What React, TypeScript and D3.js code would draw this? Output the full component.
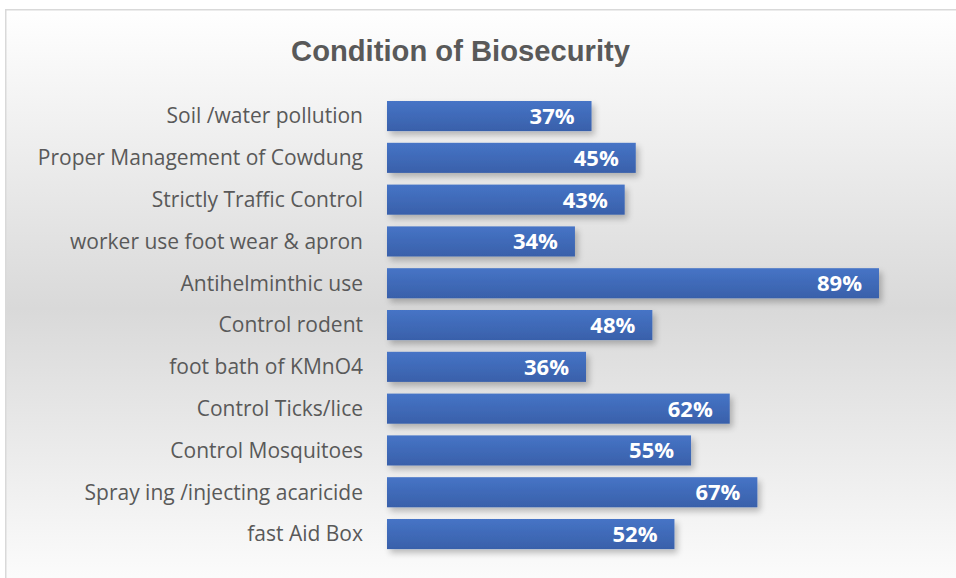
import React from "react";
import * as d3 from "d3";

const categories: string[] = [
  "Soil /water pollution",
  "Proper Management of Cowdung",
  "Strictly Traffic Control",
  "worker use foot wear & apron",
  "Antihelminthic use",
  "Control rodent",
  "foot bath of KMnO4",
  "Control Ticks/lice",
  "Control Mosquitoes",
  "Spray ing /injecting acaricide",
  "fast Aid Box",
];
const values: number[] = [0.37, 0.45, 0.43, 0.34, 0.89, 0.48, 0.36, 0.62, 0.55, 0.67, 0.52];
const title = "Condition of Biosecurity";

const W = 956;
const H = 578;

export default function App() {
  const x = d3.scaleLinear().domain([0, 1]).range([387, 939.8]);
  const y = d3
    .scaleBand<string>()
    .domain(categories)
    .range([95.15, 554.95])
    .paddingInner(0.28)
    .paddingOuter(0.14);
  const fmt = d3.format(".0%");
  const labelFont = "'Open Sans', 'Noto Sans', sans-serif";

  return (
    <div style={{ position: "fixed", left: 0, top: 0, width: W, height: H, background: "#fff" }}>
      <svg width={W} height={H} style={{ display: "block" }}>
        <defs>
          <linearGradient id="bg" x1="0" y1="0" x2="0" y2="1">
            <stop offset="0" stopColor="#ffffff" />
            <stop offset="0.5" stopColor="#d9d9d9" />
            <stop offset="1" stopColor="#ffffff" />
          </linearGradient>
          <linearGradient id="bar" x1="0" y1="0" x2="0" y2="1">
            <stop offset="0" stopColor="#4674c6" />
            <stop offset="1" stopColor="#3960aa" />
          </linearGradient>
          <filter id="sh" x="-5%" y="-30%" width="115%" height="180%">
            <feGaussianBlur in="SourceAlpha" stdDeviation="3" />
            <feOffset dx="3" dy="4" result="b" />
            <feComponentTransfer>
              <feFuncA type="linear" slope="0.25" />
            </feComponentTransfer>
            <feMerge>
              <feMergeNode />
              <feMergeNode in="SourceGraphic" />
            </feMerge>
          </filter>
        </defs>
        <rect x={5.75} y={9.75} width={W + 20} height={H + 20} fill="url(#bg)" stroke="#d9d9d9" strokeWidth={1.5} />
        <text
          x={460.5}
          y={61}
          textAnchor="middle"
          fontFamily="'Liberation Sans', Arial, sans-serif"
          fontWeight="bold"
          fontSize={29.2}
          fill="#595959"
        >
          {title}
        </text>
        {categories.map((c, i) => {
          const by = y(c) as number;
          const bh = y.bandwidth();
          const v = values[i];
          return (
            <g key={c}>
              <text
                x={363}
                y={by + bh / 2}
                dy="0.35em"
                textAnchor="end"
                fontFamily={labelFont}
                fontSize={21}
                fill="#595959"
              >
                {c}
              </text>
              <rect x={x(0)} y={by} width={x(v) - x(0)} height={bh} fill="url(#bar)" filter="url(#sh)" />
              <text
                x={x(v) - 17}
                y={by + bh / 2}
                dy="0.36em"
                textAnchor="end"
                fontFamily={labelFont}
                fontWeight="bold"
                fontSize={22}
                fill="#ffffff"
              >
                {fmt(v)}
              </text>
            </g>
          );
        })}
      </svg>
    </div>
  );
}
